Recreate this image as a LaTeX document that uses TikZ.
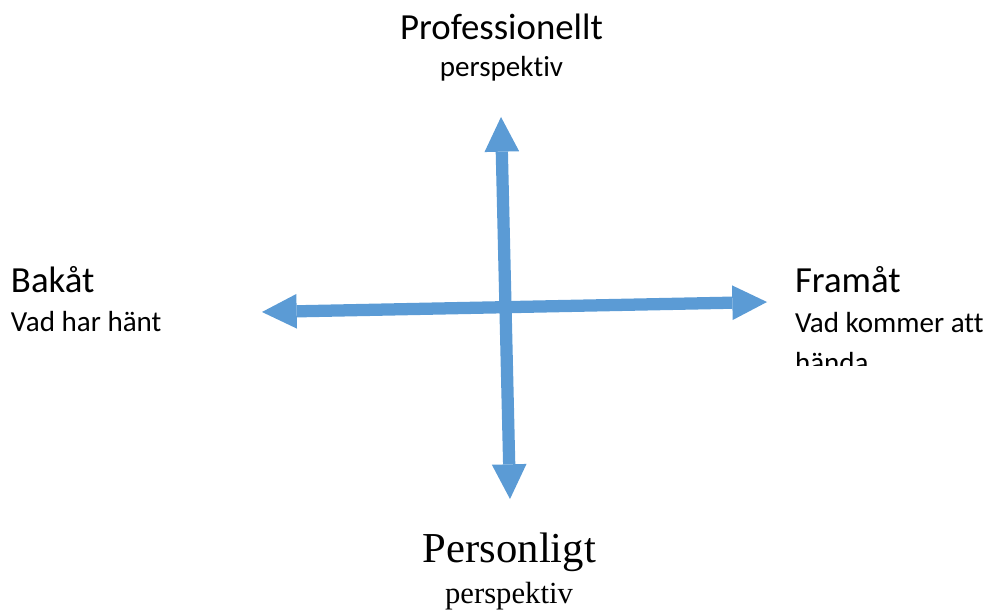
\documentclass[tikz,border=0pt]{standalone}
\usepackage{fontspec}
\setmainfont{Carlito}[Ligatures=NoCommon]
\newfontfamily\timesface{Liberation Serif}
\usetikzlibrary{arrows.meta}
\definecolor{AxisBlue}{HTML}{5B9BD5}
\newcommand{\head}{\fontsize{27.6}{32}\selectfont}
\newcommand{\sub}{\fontsize{21.8}{26}\selectfont}

\begin{document}
\begin{tikzpicture}[x=0.75pt,y=-0.75pt,
  every node/.style={inner sep=0pt,outer sep=0pt},
  axis/.style={draw=AxisBlue,line width=9.2pt,{Triangle[length=26pt,width=26pt,line width=0pt]}-{Triangle[length=26pt,width=26pt,line width=0pt]}}]
  \useasboundingbox (0,0) rectangle (990,613);
  % axis ends
  \coordinate (back) at (262,312);
  \coordinate (fwd) at (767,302);
  \coordinate (prof) at (501,117);
  \coordinate (pers) at (510,499);
  % the two axes
  \draw[axis] (back) -- (fwd);
  \draw[axis] (prof) -- (pers);
  % top
  \node[anchor=base] (proftitle) at (501.5,39.5) {\head Professionellt};
  \node[anchor=base] (profsub) at (501.5,77) {\sub perspektiv};
  % bottom
  \node[anchor=base] (perstitle) at (509.5,562) {\timesface\fontsize{32}{38}\selectfont Personligt};
  \node[anchor=base] (perssub) at (509,603) {\timesface\fontsize{23}{28}\selectfont perspektiv};
  % left
  \node[anchor=base west] (backtitle) at (11,292) {\head Bakåt};
  \node[anchor=base west] (backsub) at (11,332) {\sub Vad har hänt};
  % right, text box cut off below
  \begin{scope}
    \clip (780,250) rectangle (990,365);
    \node[anchor=base west] (fwdtitle) at (795,293) {\head Framåt};
    \node[anchor=base west] (fwdsub) at (795,333) {\sub Vad kommer att};
    \node[anchor=base west] (fwdsub2) at (795,373) {\sub hända};
  \end{scope}
\end{tikzpicture}
\end{document}
